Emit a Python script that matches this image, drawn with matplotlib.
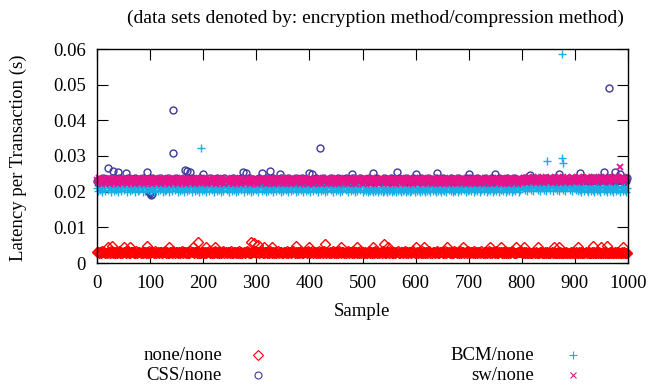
import numpy as np
import matplotlib.pyplot as plt
from matplotlib.lines import Line2D

plt.rcParams['font.family'] = ['Liberation Serif', 'DejaVu Serif']

# Dense bands: one digit per 2 samples, latency = base + digit * step
none_base, none_step = 0.0027, 0.0001
none_digits = (
    "3524163420 5316425130 4623154036 2154302613 5241530426"
    "1435260314 5243615203 4162530413 6253142063 5134260215"
    "4251360425 1630524136 0425316204 5132604251 3640215346"
    "2531460253 1406325140 6235104326 1540362513 0462153406"
    "3162540316 2450631524 0361425063 1452036154 2603415260"
    "5142036251 4063152406 3125406312 5046213504 6231450362"
    "1405326150 4236015423 6104532160 4523106452 3160452316"
    "4253160425 3160524136 0425316205 4132604251 3640215346"
    "2031402312 0413201430 2140312041 3021403120 4130214032"
    "1302413021 4031204130 2413021403 1204132041 3021403120"
)

css_base, css_step = 0.0225, 0.00015
css_digits = (
    "4637258364 7253846372 5836472538 6473258364 7258346372"
    "5384637258 4637253846 3725836472 5384637258 4637253846"
    "6472538647 3258364725 8346372584 6372538463 7258364725"
    "3758264738 5263748526 3748265374 8263574826 3758264735"
    "5263748265 3748526374 8265374852 6374826537 4852637482"
    "4736258473 6258473625 8473625847 3625847362 5847362584"
    "7362584736 2584736258 4736258473 6258473625 8473625847"
    "5847362584 7362584736 2584736258 4736258473 6258473625"
    "6385274638 5274638527 4638527463 8527463852 7463852746"
    "4857362948 5736294857 3629485736 2948573629 4857362948"
)

bcm_base, bcm_step = 0.0200, 0.0003
bcm_digits = (
    "3152406318 2540361425 0631524703 6142530641 2530614725"
    "1425036152 4306125403 6152430615 2403615240 3615240361"
    "5240316524 0361524031 6524036152 4031652403 6152403165"
    "2403615240 3165240361 5240316524 0361524031 6524036152"
    "4031652403 6152403165 2403615240 3165240361 5240316524"
    "0241302142 0312402130 1420312402 1301420312 4021301420"
    "3142031420 3142031520 4132042130 5241302143 0241352041"
    "2513402514 3025143025 1430251430 2514302514 3025143025"
    "4352614352 6143526143 5261435261 4352614352 6143526143"
    "3251420351 4203514203 5142035142 0351420351 4203514203"
)

sw_base, sw_step = 0.0220, 0.00024
sw_digits = (
    "5283614725 3816472538 1647253816 4725381647 2538164725"
    "3816472538 1647253816 4725381647 2538164725 3816472538"
    "2738164527 3816452738 1645273816 4527381645 2738164527"
    "6152738461 5273846152 7384615273 8461527384 6152738461"
    "4725183647 2518364725 1836472518 3647251836 4725183647"
    "1836472518 3647251836 4725183647 2518364725 1836472518"
    "5273846152 7384615273 8461527384 6152738461 5273846152"
    "3647251836 4725183647 2518364725 1836472518 3647251836"
    "6384725963 8472596384 7259638472 5963847259 6384725963"
    "7485936748 5936748593 6748593674 8593674859 6748593678"
)

# isolated points above / below the bands (sample, latency in 0.1 ms)
none_out_x = [20, 28, 50, 62, 95, 135, 180, 190, 205, 222, 290, 296, 303,
              315, 330, 375, 400, 430, 460, 490, 520, 540, 548, 600, 615,
              660, 690, 740, 760, 790, 805, 830, 860, 870, 905, 935, 950,
              960, 990]
none_out_y = [45, 48, 46, 44, 47, 44, 45, 60, 45, 44, 60, 55, 50,
              46, 46, 47, 45, 52, 46, 45, 44, 52, 45, 45, 44,
              46, 44, 45, 44, 45, 46, 45, 44, 46, 45, 47, 45,
              48, 44]
css_out_x = [20, 30, 40, 55, 95, 98, 100, 102, 104, 143, 143, 165, 170, 175,
             200, 275, 280, 310, 325, 345, 400, 405, 420, 480, 520, 565, 600,
             640, 700, 750, 815, 870, 910, 955, 965, 975, 985]
css_out_y = [265, 258, 255, 252, 256, 200, 195, 190, 193, 428, 308, 262, 258,
             255, 250, 255, 252, 252, 258, 250, 252, 250, 323, 250, 252, 256,
             250, 252, 250, 250, 248, 250, 252, 255, 492, 256, 250]
bcm_out_x = [195, 848, 875, 876, 877]
bcm_out_y = [322, 285, 585, 293, 280]
sw_out_x = [985]
sw_out_y = [268]

labels = ["none/none", "CSS/none", "BCM/none", "sw/none"]
colors = ["#ff0000", "#3a3a9c", "#19ade6", "#e6138a"]
markers = ["D", "o", "+", "x"]
msizes = [4.6, 5.0, 6.0, 4.8]
edge_w = [1.0, 1.0, 1.0, 1.3]

bands = [(none_digits, none_base, none_step, none_out_x, none_out_y),
         (css_digits, css_base, css_step, css_out_x, css_out_y),
         (bcm_digits, bcm_base, bcm_step, bcm_out_x, bcm_out_y),
         (sw_digits, sw_base, sw_step, sw_out_x, sw_out_y)]

fig = plt.figure(figsize=(6.5, 3.85), dpi=100)
ax = fig.add_axes([97 / 650, 1 - 263 / 385, 531 / 650, 214 / 385])

fs = 13.5
for (digits, base, step, ox, oy), c, m, s, w in zip(bands, colors, markers,
                                                    msizes, edge_w):
    d = np.array([int(ch) for ch in digits.replace(" ", "")])
    xs = np.concatenate([np.arange(len(d)) * 2, ox])
    ys = np.concatenate([base + d * step, np.array(oy) * 1e-4])
    ax.plot(xs, ys, linestyle="none", marker=m, markersize=s,
            markerfacecolor="none", markeredgecolor=c, markeredgewidth=w,
            clip_on=False)

ax.set_xlim(0, 1000)
ax.set_ylim(0, 0.06)
ax.set_xticks(np.arange(0, 1001, 100))
ax.set_yticks(np.arange(0, 0.061, 0.01))
ax.set_yticklabels(["0", "0.01", "0.02", "0.03", "0.04", "0.05", "0.06"])
ax.tick_params(direction="in", top=True, right=True, length=8, width=0.8,
               labelsize=fs, pad=9)
ax.tick_params(axis="y", pad=8)
for sp in ax.spines.values():
    sp.set_linewidth(1.0)

fig.text(0.0277, 0.59, "Latency per Transaction (s)", rotation=90,
         ha="center", va="center", fontsize=fs)
fig.text(362 / 650, 1 - 312 / 385, "Sample", ha="center", va="center", fontsize=fs)
fig.text(375 / 650, 1 - 18 / 385,
         "(data sets denoted by: encryption method/compression method)",
         ha="center", va="center", fontsize=14)

# key, gnuplot style: label right-aligned, sample to its right
key_text_x = [222, 222, 534, 534]
key_mark_x = [258, 258, 573, 573]
key_y = [355, 375, 355, 375]
for lab, c, m, s, tx, mx, ky in zip(labels, colors, markers, msizes,
                                    key_text_x, key_mark_x, key_y):
    fig.text(tx / 650, 1 - ky / 385, lab, ha="right", va="center", fontsize=fs)
    fig.add_artist(Line2D([mx / 650], [1 - ky / 385], transform=fig.transFigure,
                          linestyle="none", marker=m, markersize=s,
                          markerfacecolor="none", markeredgecolor=c,
                          markeredgewidth=0.8))

fig.savefig("out.png", dpi=100)
